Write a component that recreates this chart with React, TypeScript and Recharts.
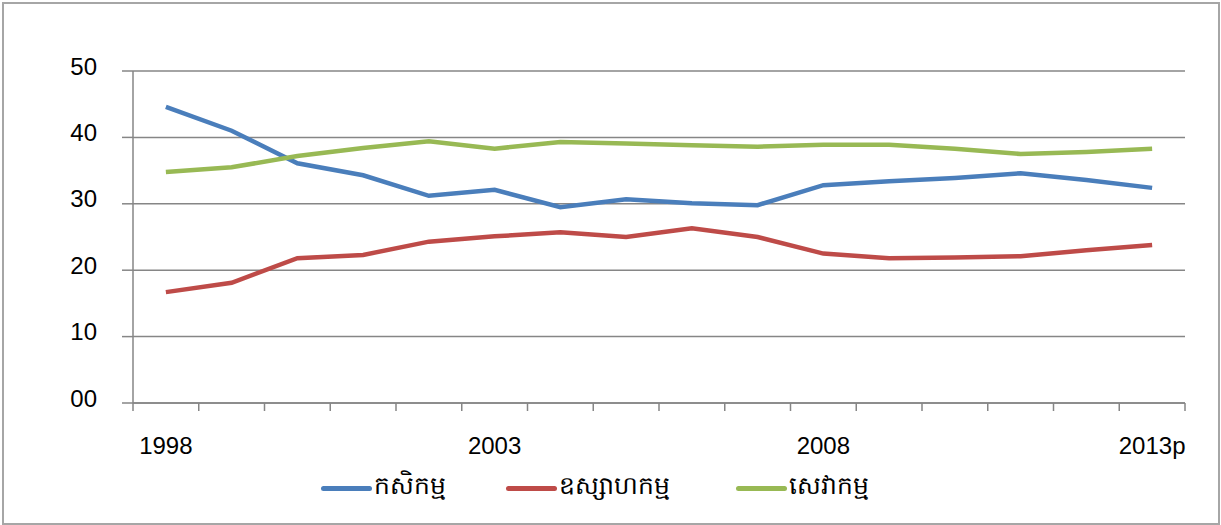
import { LineChart, Line, XAxis, YAxis, CartesianGrid, Legend } from "recharts";

const years = ["1998", "1999", "2000", "2001", "2002", "2003", "2004", "2005", "2006", "2007", "2008", "2009", "2010", "2011", "2012", "2013p"];
const agriculture = [44.6, 41.0, 36.1, 34.3, 31.2, 32.1, 29.5, 30.7, 30.1, 29.8, 32.8, 33.4, 33.9, 34.6, 33.6, 32.4];
const industry = [16.7, 18.1, 21.8, 22.3, 24.3, 25.1, 25.7, 25.0, 26.3, 25.0, 22.5, 21.8, 21.9, 22.1, 23.0, 23.8];
const services = [34.8, 35.5, 37.2, 38.4, 39.4, 38.3, 39.3, 39.1, 38.8, 38.6, 38.9, 38.9, 38.3, 37.5, 37.8, 38.3];
const yTicks = [0, 10, 20, 30, 40, 50];
const labelIdx = [0, 5, 10, 15];

const seriesKeys = ["a", "b", "c"];
const seriesNames = ["កសិកម្ម", "ឧស្សាហកម្ម", "សេវាកម្ម"];
const seriesColors = ["#4a7ebb", "#be4b48", "#98b954"];

const data = years.map((y, i) => ({
  i,
  year: y,
  a: agriculture[i],
  b: industry[i],
  c: services[i],
}));

const boundaryTicks = years.map((_, i) => i - 0.5).concat([years.length - 0.5]);

const FONT = "'Liberation Sans', Arial, sans-serif";
const legendItemWidths = [185, 230, 160];

// legend in the original series order (recharts sorts payload otherwise)
function LegendBox() {
  return (
    <div style={{ display: "flex", alignItems: "center", fontFamily: FONT, paddingLeft: 321 }}>
      {seriesNames.map((n, k) => (
        <div key={n} style={{ display: "flex", alignItems: "center", width: legendItemWidths[k], flex: "none" }}>
          <span style={{ display: "inline-block", width: 51, height: 5, borderRadius: 3, background: seriesColors[k], marginRight: 2, flex: "none" }} />
          <span style={{ fontSize: 25, color: "#000", whiteSpace: "nowrap" }}>{n}</span>
        </div>
      ))}
    </div>
  );
}

const NoLabel = () => <g />;

export default function App() {
  return (
    <div style={{ position: "absolute", left: 0, top: 0, width: 1221, height: 525, background: "#fff" }}>
      <div style={{ position: "absolute", left: 2, top: 2, width: 1214, height: 519, border: "2px solid #a6a6a6" }} />
      <LineChart width={1221} height={525} data={data} margin={{ top: 71, right: 36, left: 0, bottom: 54 }}>
        <CartesianGrid vertical={false} stroke="#868686" strokeWidth={1.5} />
        <XAxis
          xAxisId="x0"
          type="number"
          dataKey="i"
          domain={[-0.5, years.length - 0.5]}
          ticks={boundaryTicks}
          tick={NoLabel}
          tickSize={8}
          height={8}
          stroke="#868686"
          strokeWidth={1.5}
          interval={0}
          allowDataOverflow
        />
        <XAxis
          xAxisId="x1"
          type="number"
          dataKey="i"
          domain={[-0.5, years.length - 0.5]}
          ticks={labelIdx}
          tickFormatter={(v: number) => years[v]}
          axisLine={false}
          tickLine={false}
          tickSize={0}
          tickMargin={26}
          height={60}
          tick={{ fontSize: 24, fill: "#000", fontFamily: FONT }}
          interval={0}
        />
        <YAxis
          domain={[0, 50]}
          ticks={yTicks}
          tickFormatter={(v: number) => String(v).padStart(2, "0")}
          width={133}
          tickSize={11}
          tickMargin={25}
          stroke="#868686"
          strokeWidth={1.5}
          tick={{ fontSize: 24, fill: "#000", fontFamily: FONT, dy: -5 }}
          interval={0}
        />
        <Legend
          verticalAlign="middle"
          align="center"
          layout="horizontal"
          wrapperStyle={{ top: 470, left: 0, width: 1221 }}
          content={LegendBox}
        />
        {seriesKeys.map((k, j) => (
          <Line key={k} xAxisId="x0" dataKey={k} name={seriesNames[j]} stroke={seriesColors[j]} strokeWidth={4.5} dot={false} isAnimationActive={false} type="linear" />
        ))}
      </LineChart>
    </div>
  );
}
